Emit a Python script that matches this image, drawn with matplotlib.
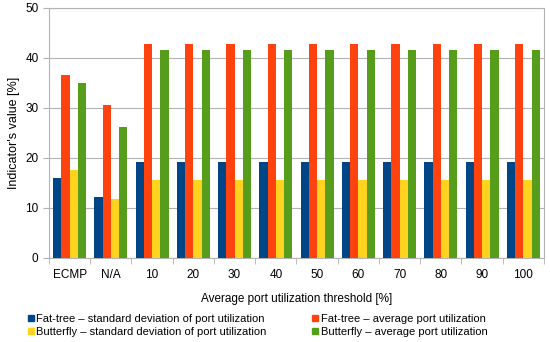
import matplotlib.pyplot as plt
import numpy as np
from matplotlib.lines import Line2D

plt.rcParams['font.family'] = ['Liberation Sans', 'DejaVu Sans']

categories = ['ECMP', 'N/A', '10', '20', '30', '40', '50', '60', '70', '80', '90', '100']
ft_std = [16.0, 12.2] + [19.2] * 10
ft_avg = [36.5, 30.5] + [42.7] * 10
bf_std = [17.5, 11.7] + [15.5] * 10
bf_avg = [35.0, 26.2] + [41.5] * 10

labels = ['Fat-tree – standard deviation of port utilization',
          'Fat-tree – average port utilization',
          'Butterfly – standard deviation of port utilization',
          'Butterfly – average port utilization']
colors = ['#004586', '#ff420e', '#ffd320', '#579d1c']
series = [ft_std, ft_avg, bf_std, bf_avg]

fig = plt.figure(figsize=(5.5, 3.42), dpi=100)
ax = fig.add_axes([0.089, 0.246, 0.9, 0.731])

x = np.arange(len(categories))
w = 0.2
for i, (vals, c) in enumerate(zip(series, colors)):
    ax.bar(x + (i - 1.5) * w, vals, width=w, color=c, zorder=3)

ax.set_xlim(-0.5, len(categories) - 0.5)
ax.set_ylim(0, 50)
ax.set_yticks([0, 10, 20, 30, 40, 50])
ax.set_xticks(x)
ax.set_xticklabels(categories)
ax.set_xticks(np.arange(-0.5, len(categories)), minor=True)
ax.tick_params(axis='x', which='major', length=0, labelsize=8.5, pad=8)
ax.tick_params(axis='x', which='minor', length=4, color='#b3b3b3')
ax.tick_params(axis='y', length=4, color='#b3b3b3', labelsize=8.5)
ax.grid(axis='y', color='#b3b3b3', linewidth=0.8, zorder=0)
for s in ax.spines.values():
    s.set_color('#b3b3b3')

ax.set_ylabel("Indicator's value [%]", fontsize=9)
ax.set_xlabel('Average port utilization threshold [%]', fontsize=8.5, labelpad=9)

handles = [Line2D([], [], marker='s', linestyle='none', color=c, markersize=4.5) for c in colors]
order = [0, 2, 1, 3]
fig.legend([handles[i] for i in order], [labels[i] for i in order],
           loc='lower center', bbox_to_anchor=(0.468, -0.015), ncol=2, frameon=False,
           fontsize=8, handlelength=0.6, handletextpad=0.2, columnspacing=4.1,
           labelspacing=0.25)

fig.savefig('out.png', dpi=100)
